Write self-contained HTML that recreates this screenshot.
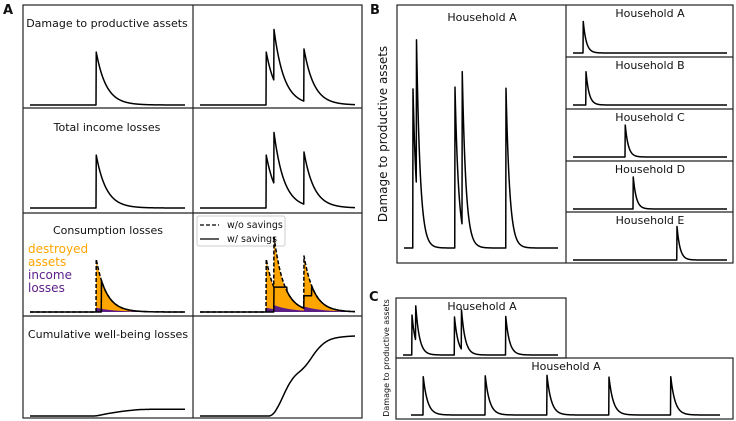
<!DOCTYPE html>
<html><head><meta charset="utf-8"><style>
html,body{margin:0;padding:0;background:#fff;}
svg{display:block;font-family:"DejaVu Sans","Liberation Sans",sans-serif;}
</style></head><body>
<svg id="fig" width="736" height="421" viewBox="0 0 736 421">
<g id="static" fill="none" stroke="#222" stroke-width="1.2">
<rect x="23" y="5" width="339" height="413"/>
<line x1="193" y1="5" x2="193" y2="418"/>
<line x1="23" y1="108" x2="362" y2="108"/>
<line x1="23" y1="213" x2="362" y2="213"/>
<line x1="23" y1="316" x2="362" y2="316"/>
<rect x="397" y="5" width="336" height="258"/>
<line x1="566" y1="5" x2="566" y2="263"/>
<line x1="566" y1="57" x2="733" y2="57"/>
<line x1="566" y1="109" x2="733" y2="109"/>
<line x1="566" y1="161" x2="733" y2="161"/>
<line x1="566" y1="212" x2="733" y2="212"/>
<rect x="396" y="298" width="170" height="60"/>
<rect x="396" y="358" width="337" height="61"/>
</g>
<g font-size="11" fill="#111">
<text x="3" y="14" font-size="13" font-weight="bold">A</text>
<text x="370" y="14" font-size="13" font-weight="bold">B</text>
<text x="369" y="301" font-size="13" font-weight="bold">C</text>
<text x="107" y="27" text-anchor="middle">Damage to productive assets</text>
<text x="107" y="131" text-anchor="middle">Total income losses</text>
<text x="108" y="234" text-anchor="middle">Consumption losses</text>
<text x="108" y="338" text-anchor="middle">Cumulative well-being losses</text>
<g font-size="12">
<text x="28" y="253" fill="#FFA500">destroyed</text>
<text x="28" y="266" fill="#FFA500">assets</text>
<text x="28" y="279" fill="#5B1E86">income</text>
<text x="28" y="292" fill="#5B1E86">losses</text>
</g>
<text x="482" y="21" text-anchor="middle">Household A</text>
<text x="650" y="17" text-anchor="middle">Household A</text>
<text x="650" y="69" text-anchor="middle">Household B</text>
<text x="650" y="121" text-anchor="middle">Household C</text>
<text x="650" y="173" text-anchor="middle">Household D</text>
<text x="650" y="224" text-anchor="middle">Household E</text>
<text x="482" y="310" text-anchor="middle">Household A</text>
<text x="566" y="370" text-anchor="middle">Household A</text>
<text transform="translate(387,134) rotate(-90)" text-anchor="middle" font-size="12">Damage to productive assets</text>
<text transform="translate(389,358) rotate(-90)" text-anchor="middle" font-size="8">Damage to productive assets</text>
</g>
<g id="legend">
<rect x="197" y="216" width="88" height="30" rx="2" fill="#fff" stroke="#ccc"/>
<line x1="200" y1="225" x2="219" y2="225" stroke="#000" stroke-width="1.3" stroke-dasharray="4,2"/>
<line x1="200" y1="239" x2="219" y2="239" stroke="#000" stroke-width="1.3"/>
<text x="227" y="228" font-size="9.5" fill="#111">w/o savings</text>
<text x="227" y="242" font-size="9.5" fill="#111">w/ savings</text>
</g>
<g id="marks"></g>
</svg>
<script>
// Panel A events (t in 0..100)
const singleTimes = [42.6];
const singleAmps = [1.0];
const multiTimes = [42.6, 47.7, 67.0];
const multiAmps = [1.0, 0.95, 0.98];
// savings windows (right consumption panel)
const saveStart = [47.7, 67.0];
const saveEnd = [56.0, 72.0];
const saveLevel = [0.46, 0.30];
// cumulative well-being
const wbLeftT = [0, 42.6, 50, 60, 70, 80, 100];
const wbLeftV = [0, 0, 0.03, 0.06, 0.08, 0.085, 0.085];
const wbRightT = [0, 46.5, 50, 53, 56, 59, 62, 66, 70, 74, 78, 82, 86, 90, 95, 100];
const wbRightV = [0, 0, 0.1, 0.22, 0.35, 0.45, 0.52, 0.58, 0.67, 0.79, 0.88, 0.94, 0.97, 0.985, 0.995, 1.0];
// Panel B main
const bTimes = [5.8, 8.1, 33.1, 37.7, 66.2];
const bAmps = [1.0, 0.91, 1.0, 1.0, 1.0];
// Panel B households A..E
const hhNames = ['A','B','C','D','E'];
const hhTimes = [6.5, 8.4, 33.8, 39.0, 67.5];
// Panel C bottom
const cTimes = [3.9, 24.0, 44.0, 64.0, 84.0];

const marks = document.getElementById('marks');
const NS = 'http://www.w3.org/2000/svg';
function dmg(times, amps, tau, t) {
  let s = 0;
  for (let i = 0; i < times.length; i++) if (t >= times[i]) s += amps[i] * Math.exp(-(t - times[i]) / tau);
  return s;
}
function pts(fn, x0, x1, base, scale) {
  const out = [];
  for (let x = x0; x <= x1 + 0.001; x += 0.25) {
    const t = (x - x0) / (x1 - x0) * 100;
    out.push(x.toFixed(2) + ',' + (base - fn(t) * scale).toFixed(2));
  }
  return out;
}
function line(p, name, extra) {
  const el = document.createElementNS(NS, 'polyline');
  el.setAttribute('points', p.join(' '));
  el.setAttribute('fill', 'none');
  el.setAttribute('stroke', '#000');
  el.setAttribute('stroke-width', '1.5');
  el.setAttribute('stroke-linejoin', 'round');
  if (extra) el.setAttribute('stroke-dasharray', extra);
  
  
  marks.appendChild(el);
}
function area(p, x0, x1, base, color, name) {
  const el = document.createElementNS(NS, 'polygon');
  el.setAttribute('points', x0 + ',' + base + ' ' + p.join(' ') + ' ' + x1 + ',' + base);
  el.setAttribute('fill', color);
  
  
  marks.appendChild(el);
}
function interp(T, V, t) {
  if (t <= T[0]) return V[0];
  for (let i = 1; i < T.length; i++) if (t <= T[i]) {
    const f = (t - T[i-1]) / (T[i] - T[i-1]);
    return V[i-1] + (V[i] - V[i-1]) * f;
  }
  return V[V.length - 1];
}
function smooth(T, V, t) {
  let s = 0, n = 0;
  for (let d = -2; d <= 2; d += 0.5) { s += interp(T, V, t + d); n++; }
  return s / n;
}
const tauA = 6.5;
[[105, 'damage'], [208, 'income']].forEach(([b, n]) => {
  line(pts(t => dmg(singleTimes, singleAmps, tauA, t), 30, 185, b, 54), n + '-left-curve');
  line(pts(t => dmg(multiTimes, multiAmps, tauA, t), 200, 355, b, 54), n + '-right-curve');
});
const cb = 312;
function consLeft(t){ return dmg(singleTimes, singleAmps, tauA, t); }
function consRight(t){ return dmg(multiTimes, multiAmps, tauA, t); }
function purp(times, amps, t){ return 0.08 * dmg(times, amps, tauA * 1.8, t); }
area(pts(consLeft, 30, 185, cb, 54), 30, 185, cb, '#FFA500', 'consumption-left-destroyed-area');
area(pts(t => purp(singleTimes, singleAmps, t), 30, 185, cb, 54), 30, 185, cb, '#5B1E86', 'consumption-left-income-area');
area(pts(consRight, 200, 355, cb, 54), 200, 355, cb, '#FFA500', 'consumption-right-destroyed-area');
area(pts(t => purp(multiTimes, multiAmps, t), 200, 355, cb, 54), 200, 355, cb, '#5B1E86', 'consumption-right-income-area');
line(pts(consLeft, 30, 185, cb, 54), 'consumption-left-without-savings', '4,2');
line(pts(consRight, 200, 355, cb, 54), 'consumption-right-without-savings', '4,2');
line(pts(t => t > 46 ? consLeft(t) : 0.0, 30, 185, cb, 54), 'consumption-left-with-savings');
line(pts(t => {
  for (let i = 0; i < saveStart.length; i++) if (t >= saveStart[i] && t < saveEnd[i]) return saveLevel[i];
  return t >= saveStart[0] ? consRight(t) : 0;
}, 200, 355, cb, 54), 'consumption-right-with-savings');
line(pts(t => smooth(wbLeftT, wbLeftV, t), 30, 185, 416, 80), 'wellbeing-left-curve');
line(pts(t => smooth(wbRightT, wbRightV, t), 200, 355, 416, 80), 'wellbeing-right-curve');
line(pts(t => dmg(bTimes, bAmps, 2.4, t), 404, 558, 248, 162), 'b-main-curve');
hhNames.forEach((n, i) => {
  const base = 53 + i * 52 - (i === 4 ? 1 : 0);
  line(pts(t => dmg([hhTimes[i]], [1], 2.0, t), 573, 727, base, 34), 'b-household-' + n.toLowerCase() + '-curve');
});
line(pts(t => dmg(bTimes, bAmps, 2.4, t), 403, 558, 355, 40), 'c-top-curve');
line(pts(t => dmg(cTimes, cTimes.map(() => 1), 1.4, t), 411, 720, 415, 40), 'c-bottom-curve');
</script>
</body></html>
